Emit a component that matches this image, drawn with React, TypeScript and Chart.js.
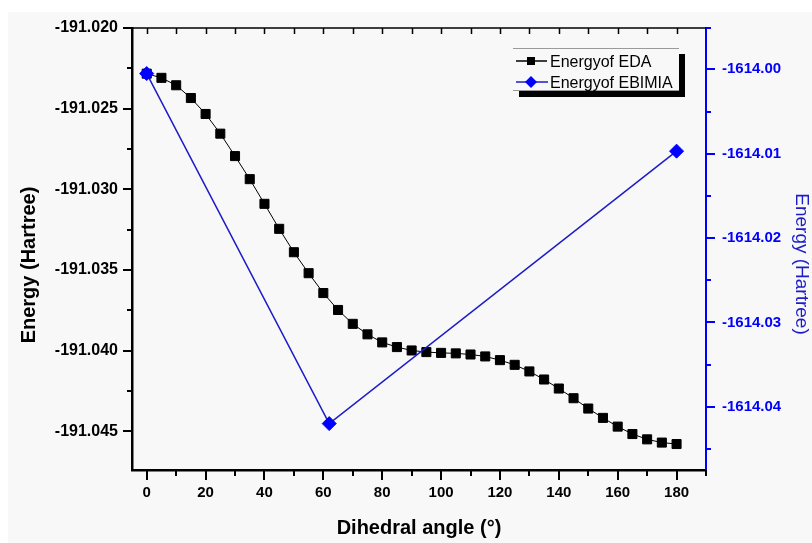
import React, { useEffect, useRef } from 'react';
import { Chart, registerables } from 'chart.js';

Chart.register(...registerables);

const angles = [0, 5, 10, 15, 20, 25, 30, 35, 40, 45, 50, 55, 60, 65, 70, 75, 80, 85, 90, 95, 100, 105, 110, 115, 120, 125, 130, 135, 140, 145, 150, 155, 160, 165, 170, 175, 180];
const edaEnergy = [
  -191.02283, -191.02309, -191.02355, -191.02434, -191.02533, -191.02655, -191.02794, -191.02937, -191.0309, -191.03245,
  -191.0339, -191.0352, -191.03643, -191.03748, -191.03834, -191.03899, -191.03949, -191.03978, -191.03999, -191.04009,
  -191.04014, -191.04017, -191.04024, -191.04036, -191.04059, -191.04088, -191.04129, -191.04179, -191.04235, -191.04295,
  -191.04359, -191.04417, -191.04471, -191.04517, -191.0455, -191.0457, -191.04579,
];
const ebimiaAngles = [0, 62, 180];
const ebimiaEnergy = [-1614.0005, -1614.042, -1614.0097];

const xTicks = [0, 20, 40, 60, 80, 100, 120, 140, 160, 180];
const xMinorTicks = [10, 30, 50, 70, 90, 110, 130, 150, 170, 190];
const xTopTicks = [0, 10, 20, 30, 40, 50, 60, 70, 80, 90, 100, 110, 120, 130, 140, 150, 160, 170, 180];
const leftTicks = [-191.045, -191.04, -191.035, -191.03, -191.025, -191.02];
const leftMinorTicks = [-191.0425, -191.0375, -191.0325, -191.0275, -191.0225];
const rightTicks = [-1614.04, -1614.03, -1614.02, -1614.01, -1614.0];
const rightMinorTicks = [-1614.045, -1614.035, -1614.025, -1614.015, -1614.005];

const seriesLabels = ['Energyof EDA', 'Energyof EBIMIA'];
const xTitle = 'Dihedral angle (°)';
const yTitle = 'Energy (Hartree)';

const FONT = "'Liberation Sans', Arial, Helvetica, sans-serif";
const BLUE = '#0000ff';
const BLUE_LINE = '#1c1cc8';

const decor = {
  id: 'decor',
  beforeDraw(chart: any) {
    const ctx = chart.ctx;
    ctx.save();
    ctx.fillStyle = '#ffffff';
    ctx.fillRect(0, 0, chart.width, chart.height);
    ctx.fillStyle = '#f8f8f8';
    ctx.fillRect(8, 12, chart.width - 8, chart.height - 12);
    ctx.restore();
  },
  afterDraw(chart: any) {
    const ctx = chart.ctx;
    const { left, right, top, bottom } = chart.chartArea;
    const x = chart.scales.x;
    const yL = chart.scales.yL;
    const yR = chart.scales.yR;
    ctx.save();
    // top frame line
    ctx.strokeStyle = '#000';
    ctx.lineWidth = 1.5;
    ctx.beginPath();
    ctx.moveTo(left, top);
    ctx.lineTo(right, top);
    ctx.stroke();
    // top inward ticks
    ctx.lineWidth = 1.5;
    ctx.beginPath();
    xTopTicks.forEach((v) => {
      const px = Math.round(x.getPixelForValue(v)) + 0.5;
      ctx.moveTo(px, top);
      ctx.lineTo(px, top + 6);
    });
    ctx.stroke();
    // bottom ticks
    ctx.lineWidth = 2;
    ctx.beginPath();
    xTicks.forEach((v) => {
      const px = Math.round(x.getPixelForValue(v));
      ctx.moveTo(px, bottom);
      ctx.lineTo(px, bottom + 10);
    });
    xMinorTicks.forEach((v) => {
      const px = Math.round(x.getPixelForValue(v));
      ctx.moveTo(px, bottom);
      ctx.lineTo(px, bottom + 6);
    });
    ctx.stroke();
    // left ticks
    ctx.beginPath();
    leftTicks.forEach((v) => {
      const py = Math.round(yL.getPixelForValue(v));
      ctx.moveTo(left, py);
      ctx.lineTo(left - 9, py);
    });
    leftMinorTicks.forEach((v) => {
      const py = Math.round(yL.getPixelForValue(v));
      ctx.moveTo(left, py);
      ctx.lineTo(left - 5, py);
    });
    ctx.stroke();
    // right ticks
    ctx.strokeStyle = BLUE;
    ctx.beginPath();
    rightTicks.forEach((v) => {
      const py = Math.round(yR.getPixelForValue(v));
      ctx.moveTo(right, py);
      ctx.lineTo(right + 9, py);
    });
    rightMinorTicks.forEach((v) => {
      const py = Math.round(yR.getPixelForValue(v));
      ctx.moveTo(right, py);
      ctx.lineTo(right + 5, py);
    });
    ctx.moveTo(right, top);
    ctx.lineTo(right + 5, top);
    ctx.stroke();

    // titles
    ctx.fillStyle = '#000';
    ctx.font = `bold 20px ${FONT}`;
    ctx.textAlign = 'center';
    ctx.textBaseline = 'alphabetic';
    ctx.fillText(xTitle, (left + right) / 2, 534);

    ctx.save();
    ctx.translate(35, 265);
    ctx.rotate(-Math.PI / 2);
    ctx.fillText(yTitle, 0, 0);
    ctx.restore();

    ctx.save();
    ctx.fillStyle = BLUE_LINE;
    ctx.font = `19px ${FONT}`;
    ctx.translate(796, 264);
    ctx.rotate(Math.PI / 2);
    ctx.fillText(yTitle, 0, 0);
    ctx.restore();

    // legend
    const bx = 513, by = 48, bw = 166, bh = 43;
    ctx.fillStyle = '#000';
    ctx.fillRect(bx + 6, by + 6, bw, bh);
    ctx.fillStyle = '#f8f8f8';
    ctx.fillRect(bx, by, bw, bh);
    ctx.strokeStyle = '#9a9a9a';
    ctx.lineWidth = 1;
    ctx.beginPath();
    ctx.moveTo(bx, by + 0.5);
    ctx.lineTo(bx + bw, by + 0.5);
    ctx.moveTo(bx, by + bh - 0.5);
    ctx.lineTo(bx + bw, by + bh - 0.5);
    ctx.stroke();

    const ds = chart.data.datasets;
    const rows = [61, 82];
    ctx.font = `16px ${FONT}`;
    ctx.textAlign = 'left';
    ctx.textBaseline = 'alphabetic';
    // row 1: black square
    ctx.strokeStyle = '#000';
    ctx.lineWidth = 1.5;
    ctx.beginPath();
    ctx.moveTo(516, rows[0]);
    ctx.lineTo(547, rows[0]);
    ctx.stroke();
    ctx.fillStyle = '#000';
    ctx.fillRect(527, rows[0] - 4, 8, 8);
    ctx.fillText(ds[0].label, 550, rows[0] + 5.5);
    // row 2: blue diamond
    ctx.strokeStyle = BLUE_LINE;
    ctx.beginPath();
    ctx.moveTo(516, rows[1]);
    ctx.lineTo(548, rows[1]);
    ctx.stroke();
    ctx.fillStyle = BLUE;
    ctx.beginPath();
    ctx.moveTo(531, rows[1] - 6);
    ctx.lineTo(537, rows[1]);
    ctx.lineTo(531, rows[1] + 6);
    ctx.lineTo(525, rows[1]);
    ctx.closePath();
    ctx.fill();
    ctx.fillStyle = '#000';
    ctx.fillText(ds[1].label, 550, rows[1] + 5.5);
    ctx.restore();
  },
};

export default function App() {
  const canvasRef = useRef<HTMLCanvasElement | null>(null);

  useEffect(() => {
    const canvas = canvasRef.current;
    if (!canvas) return;
    const chart = new Chart(canvas, {
      type: 'line',
      data: {
        datasets: [
          {
            label: seriesLabels[0],
            data: angles.map((a, i) => ({ x: a, y: edaEnergy[i] })),
            yAxisID: 'yL',
            borderColor: '#000',
            borderWidth: 1,
            pointStyle: 'rect',
            pointRadius: 6.4,
            pointBackgroundColor: '#000',
            pointBorderColor: '#000',
            pointBorderWidth: 1,
            tension: 0,
            order: 1,
          },
          {
            label: seriesLabels[1],
            data: ebimiaAngles.map((a, i) => ({ x: a, y: ebimiaEnergy[i] })),
            yAxisID: 'yR',
            borderColor: BLUE_LINE,
            borderWidth: 1.5,
            pointStyle: 'rectRot',
            pointRadius: 7,
            pointBackgroundColor: BLUE,
            pointBorderColor: BLUE,
            pointBorderWidth: 1,
            tension: 0,
            order: 0,
          },
        ],
      },
      options: {
        animation: false,
        responsive: false,
        devicePixelRatio: 1,
        layout: { padding: { top: 28, left: 0, right: 0, bottom: 0 } },
        plugins: {
          legend: { display: false },
          tooltip: { enabled: false },
        },
        scales: {
          x: {
            type: 'linear',
            position: 'bottom',
            min: -5,
            max: 190,
            afterBuildTicks: (s: any) => {
              s.ticks = xTicks.map((v) => ({ value: v }));
            },
            afterFit: (s: any) => {
              s.height = 73;
            },
            ticks: {
              color: '#000',
              font: { family: FONT, size: 15, weight: 'bold' },
              padding: 6,
              maxRotation: 0,
              autoSkip: false,
              callback: (v: any) => String(v),
            },
            grid: { display: false },
            border: { display: true, color: '#000', width: 2.5 },
          },
          yL: {
            type: 'linear',
            position: 'left',
            min: -191.0474,
            max: -191.02,
            afterBuildTicks: (s: any) => {
              s.ticks = leftTicks.map((v) => ({ value: v }));
            },
            afterFit: (s: any) => {
              s.width = 132;
            },
            ticks: {
              color: '#000',
              font: { family: FONT, size: 16, weight: 'bold' },
              padding: 6,
              autoSkip: false,
              callback: (v: any) => Number(v).toFixed(3),
            },
            grid: { display: false },
            border: { display: true, color: '#000', width: 2.5 },
          },
          yR: {
            type: 'linear',
            position: 'right',
            min: -1614.0475,
            max: -1613.9951,
            afterBuildTicks: (s: any) => {
              s.ticks = rightTicks.map((v) => ({ value: v }));
            },
            afterFit: (s: any) => {
              s.width = 106;
            },
            ticks: {
              color: BLUE,
              font: { family: FONT, size: 15, weight: 'bold' },
              padding: 8,
              autoSkip: false,
              callback: (v: any) => Number(v).toFixed(2),
            },
            grid: { display: false },
            border: { display: true, color: BLUE, width: 2 },
          },
        },
      },
      plugins: [decor],
    } as any);
    return () => chart.destroy();
  }, []);

  return (
    <div style={{ position: 'absolute', left: 0, top: 0, width: 812, height: 543 }}>
      <canvas ref={canvasRef} width={812} height={543} style={{ width: 812, height: 543, display: 'block' }} />
    </div>
  );
}
